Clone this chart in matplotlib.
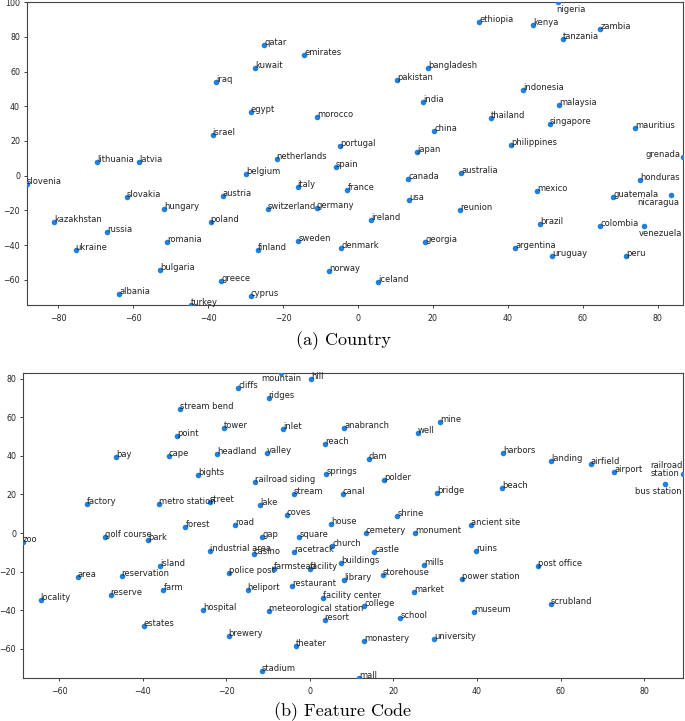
import matplotlib
matplotlib.use("Agg")
import matplotlib.pyplot as plt

# (a) country embeddings
countries = ["qatar", "emirates", "kuwait", "iraq", "egypt", "morocco", "israel",
             "portugal", "netherlands", "nigeria", "ethiopia", "kenya", "zambia",
             "tanzania", "bangladesh", "pakistan", "indonesia", "india", "malaysia",
             "thailand", "singapore", "mauritius", "china", "philippines", "japan",
             "grenada", "lithuania", "latvia", "spain", "belgium", "slovenia", "italy",
             "slovakia", "austria", "hungary", "switzerland", "germany", "kazakhstan",
             "poland", "russia", "romania", "ukraine", "finland", "sweden", "bulgaria",
             "norway", "greece", "albania", "cyprus", "turkey", "australia", "canada",
             "honduras", "france", "mexico", "guatemala", "nicaragua", "usa", "reunion",
             "ireland", "brazil", "colombia", "venezuela", "denmark", "georgia",
             "argentina", "uruguay", "peru", "iceland"]
country_x = [-25.0, -14.3, -27.5, -37.9, -28.6, -10.8, -38.8,
             -4.8, -21.7, 53.4, 32.4, 46.8, 64.7,
             54.6, 18.8, 10.4, 44.0, 17.3, 53.6,
             35.4, 51.2, 73.9, 20.4, 40.8, 15.8,
             86.7, -69.6, -58.3, -5.9, -29.9, -88.3, -16.1,
             -61.7, -36.1, -51.8, -24.0, -11.0, -81.1,
             -39.3, -67.0, -50.9, -75.3, -26.8, -15.9, -52.8,
             -7.6, -36.5, -63.7, -28.6, -44.5, 27.6, 13.4,
             75.2, -2.8, 47.8, 68.1, 83.5, 13.7, 27.2,
             3.5, 48.5, 64.7, 76.4, -4.4, 18.0,
             42.0, 51.8, 71.5, 5.4]
country_y = [75.0, 69.6, 61.9, 54.1, 36.5, 33.6, 23.5,
             17.3, 9.8, 100.0, 88.5, 86.7, 84.4,
             78.9, 62.3, 55.0, 49.6, 42.7, 40.6,
             33.5, 29.8, 27.5, 26.0, 17.5, 13.7,
             10.5, 7.7, 7.7, 5.0, 1.2, -4.8, -6.2,
             -12.5, -11.9, -19.2, -19.4, -18.8, -26.9,
             -26.9, -32.3, -38.1, -42.5, -42.7, -37.3, -54.1,
             -54.8, -60.6, -68.1, -69.4, -74.4, 1.5, -2.1,
             -2.5, -8.1, -8.8, -12.1, -11.2, -13.8, -19.6,
             -25.2, -27.5, -29.2, -29.0, -41.7, -37.9,
             -41.7, -46.0, -46.0, -61.2]

# (b) feature code embeddings
features = ["mountain", "hill", "cliffs", "ridges", "stream bend", "tower", "inlet",
            "point", "reach", "bay", "cape", "headland", "valley", "bights", "springs",
            "railroad siding", "stream", "canal", "factory", "metro station", "street",
            "lake", "coves", "forest", "road", "house", "gap", "square", "golf course",
            "park", "zoo", "industrial area", "casino", "racetrack", "church", "island",
            "farmstead", "facility", "buildings", "police post", "area", "reservation",
            "library", "heliport", "restaurant", "farm", "reserve", "locality",
            "facility center", "hospital", "meteorological station", "resort", "estates",
            "brewery", "theater", "stadium", "anabranch", "mine", "well", "dam",
            "harbors", "landing", "airfield", "airport", "railroad station", "polder",
            "bus station", "beach", "bridge", "shrine", "ancient site", "cemetery",
            "monument", "castle", "ruins", "mills", "post office", "storehouse",
            "power station", "market", "college", "scrubland", "museum", "school",
            "monastery", "university", "mall"]
feature_x = [-6.9, 0.2, -17.2, -9.9, -31.2, -20.7, -6.4,
             -31.8, 3.6, -46.4, -33.8, -22.3, -10.3, -26.8, 3.9,
             -13.1, -3.8, 7.9, -53.3, -36.2, -24.0,
             -12.0, -5.5, -29.8, -18.0, 5.0, -11.4, -2.6, -49.0,
             -38.7, -68.7, -24.0, -13.5, -3.8, 5.3, -35.9,
             -8.7, 0.0, 7.4, -19.5, -55.6, -45.1,
             8.2, -14.9, -4.3, -35.1, -47.7, -64.5,
             3.1, -25.5, -9.7, 3.5, -39.8,
             -19.5, -3.3, -11.6, 8.2, 31.2, 25.9, 14.1,
             46.2, 57.8, 67.2, 72.8, 89.3, 17.7,
             85.1, 46.0, 30.4, 20.9, 38.6, 13.3,
             25.2, 15.4, 39.8, 27.4, 54.6, 17.5,
             36.5, 25.0, 13.0, 57.7, 39.3, 21.6,
             13.0, 29.8, 11.7]
feature_y = [82.9, 79.9, 74.9, 69.7, 64.2, 54.2, 54.0,
             50.4, 46.1, 39.2, 40.1, 41.1, 41.3, 29.9, 30.4,
             26.2, 20.4, 20.2, 15.2, 15.0, 15.9,
             14.7, 9.3, 3.1, 4.1, 4.5, -1.9, -1.9, -2.2,
             -3.4, -4.9, -9.2, -10.9, -9.9, -6.6, -17.0,
             -18.7, -18.5, -15.3, -20.7, -23.0, -22.1,
             -24.5, -29.4, -27.5, -29.5, -32.0, -34.7,
             -33.7, -39.7, -40.6, -45.3, -48.4,
             -53.4, -58.5, -71.5, 54.4, 57.7, 52.0, 38.5,
             41.3, 37.5, 35.6, 31.6, 30.6, 27.5,
             25.4, 23.3, 20.7, 8.6, 4.0, 0.2,
             -0.2, -9.9, -9.2, -16.3, -17.3, -21.8,
             -24.0, -30.6, -37.7, -37.0, -41.1, -44.2,
             -56.0, -55.1, -75.1]

# labels that were pushed away from their point: (dx, dy in points, ha, va)
moved_labels = {
    "nigeria": (-1, -2, "left", "top"),
    "grenada": (-2, 0, "right", "baseline"),
    "nicaragua": (6, -2, "right", "top"),
    "venezuela": (-4, -2, "left", "top"),
    "mountain": (0, -1, "center", "top"),
    "railroad station": (0, 3, "right", "center"),
    "bus station": (12, -2, "right", "top"),
}

dot_color = "#1f80e0"


def draw_panel(ax, names, xs, ys):
    ax.scatter(xs, ys, s=16, color=dot_color, zorder=3, linewidths=0)
    for name, x, y in zip(names, xs, ys):
        if name in moved_labels:
            dx, dy, ha, va = moved_labels[name]
            txt = name.replace(" ", "\n") if name == "railroad station" else name
            ax.annotate(txt, (x, y), xytext=(dx, dy), textcoords="offset points",
                        ha=ha, va=va, fontsize=6, color="#222222",
                        multialignment="left", linespacing=0.9)
        else:
            ax.annotate(name, (x, y), fontsize=6, color="#222222")
    ax.set_xlim(min(xs), max(xs))
    ax.set_ylim(min(ys), max(ys))
    ax.tick_params(labelsize=5.7, length=2.5, width=0.6, colors="#222222")
    ax.tick_params(axis="x", pad=4)
    ax.tick_params(axis="y", pad=2.5)
    for sp in ax.spines.values():
        sp.set_linewidth(0.8)
        sp.set_color("#444444")


fig = plt.figure(figsize=(6.85, 7.21), dpi=100)

ax1 = fig.add_axes([0.0394, 0.577, 0.9576, 0.4202])
draw_panel(ax1, countries, country_x, country_y)
ax1.set_yticks([-60, -40, -20, 0, 20, 40, 60, 80, 100])
ax1.set_xticks([-80, -60, -40, -20, 0, 20, 40, 60, 80])

ax2 = fig.add_axes([0.0336, 0.0596, 0.9634, 0.4231])
draw_panel(ax2, features, feature_x, feature_y)
ax2.set_yticks([-60, -40, -20, 0, 20, 40, 60, 80])
ax2.set_xticks([-60, -40, -20, 0, 20, 40, 60, 80])

fig.text(0.502, 0.527, "(a) Country", family="cmr10", fontsize=13,
         ha="center", va="center")
fig.text(0.5, 0.013, "(b) Feature Code", family="cmr10", fontsize=13,
         ha="center", va="center")

fig.savefig("out.png", dpi=100)
